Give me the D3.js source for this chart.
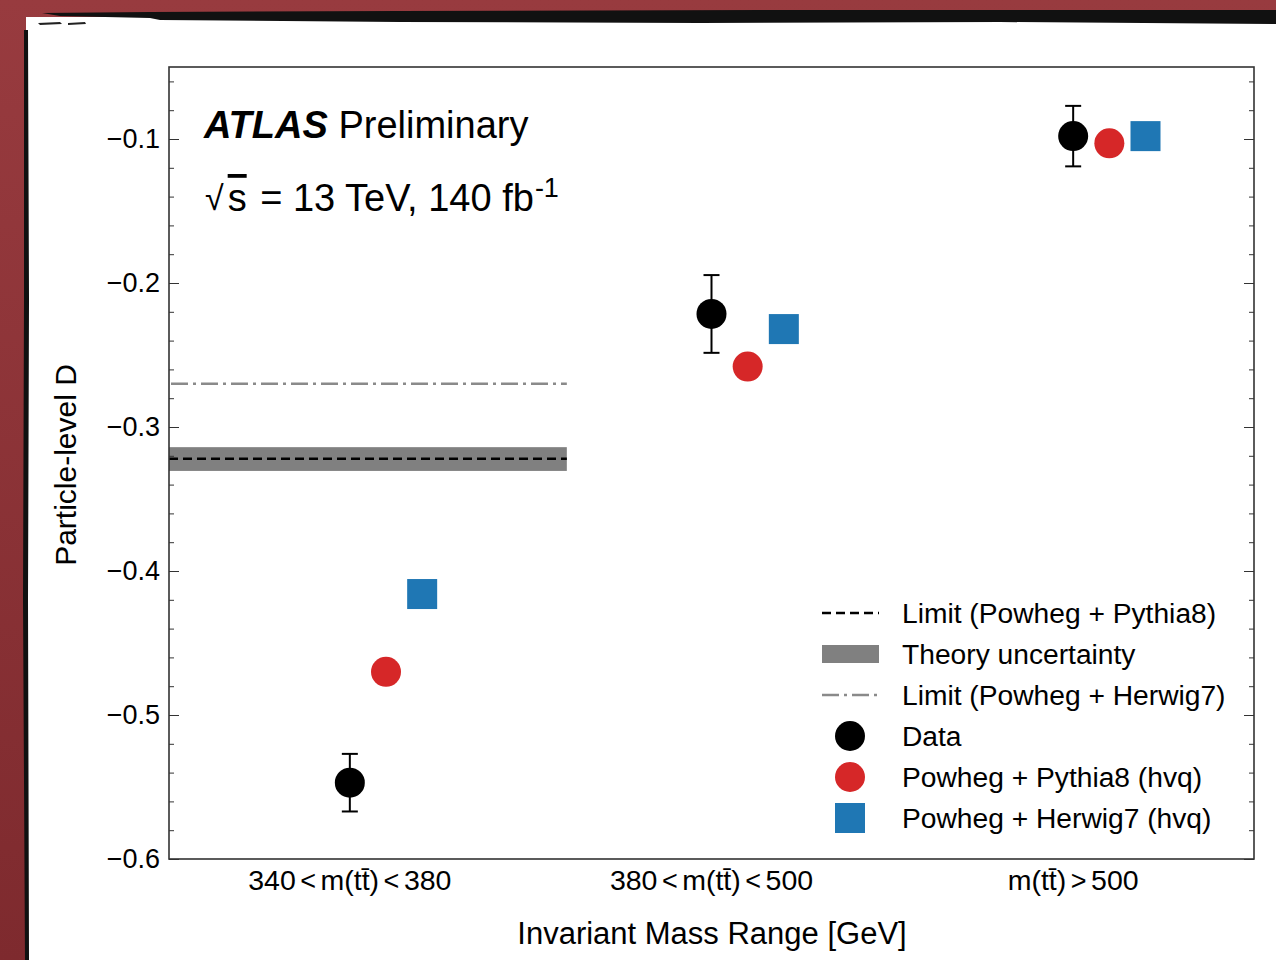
<!DOCTYPE html>
<html><head><meta charset="utf-8">
<script src="https://cdn.jsdelivr.net/npm/d3@7"></script>
<style>
html,body{margin:0;padding:0;background:#933a3e;}
svg{display:block;font-family:"Liberation Sans",Arial,Helvetica,sans-serif;}
</style></head>
<body>
<svg id="chart" width="1276" height="960"></svg>
<script>
// ---- data ----
const categories = ["340<m(tt\u0304)<380", "380<m(tt\u0304)<500", "m(tt\u0304)>500"];
const catLabelParts = [["340", "<", "m(tt\u0304)", "<", "380"], ["380", "<", "m(tt\u0304)", "<", "500"], ["m(tt\u0304)", ">", "500"]];
const dataValues = [-0.547, -0.2215, -0.098];
const dataErrors = [0.020, 0.027, 0.021];
const pythiaValues = [-0.470, -0.258, -0.103];
const herwigValues = [-0.416, -0.232, -0.098];
const limitPythia = -0.322;
const theoryBand = [-0.3305, -0.314];
const limitHerwig = -0.270;
const limitRange = [-0.5, 0.6]; // in category units
const yTicks = [-0.6, -0.5, -0.4, -0.3, -0.2, -0.1];
const legendLabels = ["Limit (Powheg + Pythia8)", "Theory uncertainty", "Limit (Powheg + Herwig7)", "Data", "Powheg + Pythia8 (hvq)", "Powheg + Herwig7 (hvq)"];

const svg = d3.select("#chart");
// ---- slide background ----
const bg = svg.append("g");
const grad = svg.append("defs").append("linearGradient").attr("id","redg").attr("x1",0).attr("y1",0).attr("x2",0).attr("y2",1);
grad.append("stop").attr("offset","0%").attr("stop-color","#983b3f");
grad.append("stop").attr("offset","100%").attr("stop-color","#7e2a2e");
bg.append("rect").attr("width",1276).attr("height",960).attr("fill","url(#redg)");
bg.append("rect").attr("x",26).attr("y",17).attr("width",1250).attr("height",943).attr("fill","#fff");
// rough black edges
bg.append("path").attr("d","M42,13 L150,12 L400,11 L800,10 L1276,10 L1276,24 L1000,22 L700,23 L400,22 L160,20 L150,18 L60,16 Z").attr("fill","#111");
bg.append("path").attr("d","M38,23 L60,22 L62,24 L40,25 Z M68,23 L85,22 L86,24 L68,25 Z").attr("fill","#222");
bg.append("path").attr("d","M24,30 L28,30 L29,300 L28,600 L29,960 L25,960 L23,600 L24,300 Z").attr("fill","#111");

const M = {left:169, right:1254, top:67, bottom:859};
const x = d3.scaleLinear().domain([-0.5, 2.5]).range([M.left, M.right]);
const y = d3.scaleLinear().domain([-0.6, -0.05]).range([M.bottom, M.top]);

const g = svg.append("g");
const minus = s => s.replace("-", "\u2212");

// theory band and limits
g.append("rect").attr("x", x(limitRange[0])).attr("width", x(limitRange[1]) - x(limitRange[0]))
  .attr("y", y(theoryBand[1])).attr("height", y(theoryBand[0]) - y(theoryBand[1])).attr("fill", "#808080");
g.append("line").attr("x1", x(limitRange[0])).attr("x2", x(limitRange[1])).attr("y1", y(limitPythia)).attr("y2", y(limitPythia))
  .attr("stroke", "#000").attr("stroke-width", 2.5).attr("stroke-dasharray", "9,5");
g.append("line").attr("x1", x(limitRange[0])+2).attr("x2", x(limitRange[1])).attr("y1", y(limitHerwig)).attr("y2", y(limitHerwig))
  .attr("stroke", "#8a8a8a").attr("stroke-width", 2.5).attr("stroke-dasharray", "17,5,3,5");

// axes (inward ticks)
const yAxisL = d3.axisLeft(y).tickValues(yTicks).tickSize(-10).tickFormat(d => minus(d3.format(".1f")(d)));
const yMinor = d3.range(-0.6, -0.049, 0.02).filter(v => Math.abs(Math.round(v*10)/10 - v) > 1e-6);
const gl = g.append("g").attr("transform", `translate(${M.left},0)`).call(yAxisL);
gl.select(".domain").remove();
gl.selectAll("text").attr("x", -9).attr("font-size", 27).attr("fill", "#000");
gl.selectAll("line").attr("stroke", "#333");
const glm = g.append("g").attr("transform", `translate(${M.left},0)`).call(d3.axisLeft(y).tickValues(yMinor).tickSize(-5).tickFormat(""));
glm.select(".domain").remove(); glm.selectAll("line").attr("stroke", "#333");
const gr = g.append("g").attr("transform", `translate(${M.right},0)`).call(d3.axisRight(y).tickValues(yTicks).tickSize(-10).tickFormat(""));
gr.select(".domain").remove(); gr.selectAll("line").attr("stroke", "#333");
const grm = g.append("g").attr("transform", `translate(${M.right},0)`).call(d3.axisRight(y).tickValues(yMinor).tickSize(-5).tickFormat(""));
grm.select(".domain").remove(); grm.selectAll("line").attr("stroke", "#333");

g.append("rect").attr("x", M.left).attr("y", M.top).attr("width", M.right - M.left).attr("height", M.bottom - M.top)
  .attr("fill", "none").attr("stroke", "#333").attr("stroke-width", 1.6);

// x category labels
const xl = g.append("g");
categories.forEach((c, i) => {
  const t = xl.append("text").attr("x", x(i)).attr("y", 890).attr("text-anchor", "middle").attr("font-size", 28.5).attr("fill", "#000");
  catLabelParts[i].forEach((p, j) => {
    const ts = t.append("tspan").text(p);
    if (p === "<" || p === ">") ts.attr("font-size", 27);
    if (j > 0) ts.attr("dx", 4.5);
  });
});
g.append("text").attr("x", 712).attr("y", 944).attr("text-anchor", "middle").attr("font-size", 31).text("Invariant Mass Range [GeV]");
g.append("text").attr("transform", `translate(76,465) rotate(-90)`).attr("text-anchor", "middle").attr("font-size", 30).text("Particle-level D");

// points
const idx = d3.range(categories.length);
const eb = g.append("g");
idx.forEach(i => {
  const cx = x(i);
  eb.append("line").attr("x1", cx).attr("x2", cx).attr("y1", y(dataValues[i] - dataErrors[i])).attr("y2", y(dataValues[i] + dataErrors[i])).attr("stroke", "#000").attr("stroke-width", 2);
  [dataValues[i] - dataErrors[i], dataValues[i] + dataErrors[i]].forEach(v =>
    eb.append("line").attr("x1", cx - 8).attr("x2", cx + 8).attr("y1", y(v)).attr("y2", y(v)).attr("stroke", "#000").attr("stroke-width", 2));
});
g.selectAll(".data").data(idx).join("circle").attr("cx", i => x(i)).attr("cy", i => y(dataValues[i])).attr("r", 15).attr("fill", "#000");
g.selectAll(".py").data(idx).join("circle").attr("cx", i => x(i + 0.1)).attr("cy", i => y(pythiaValues[i])).attr("r", 15).attr("fill", "#d62728");
g.selectAll(".hw").data(idx).join("rect").attr("x", i => x(i + 0.2) - 15).attr("y", i => y(herwigValues[i]) - 15).attr("width", 30).attr("height", 30).attr("fill", "#1f77b4");

// title
const tt = g.append("text").attr("x", 204).attr("y", 138).attr("font-size", 38).attr("fill", "#000");
tt.append("tspan").text("ATLAS").attr("font-weight", "bold").attr("font-style", "italic");
tt.append("tspan").text(" Preliminary");
const t2 = g.append("text").attr("x", 205).attr("y", 211).attr("font-size", 38).attr("fill", "#000");
t2.append("tspan").text("\u221A").attr("font-size", 34).attr("dy", -1);
t2.append("tspan").text("s").attr("text-decoration", "overline").attr("dx", 4).attr("dy", 1);
t2.append("tspan").text(" = 13 TeV, 140 fb").attr("dx", 3);
t2.append("tspan").text("-1").attr("font-size", 27).attr("dy", -14).attr("dx", 1);

// legend
const lg = g.append("g");
const ly = i => 613 + i * 41;
lg.append("line").attr("x1", 822).attr("x2", 879).attr("y1", ly(0)).attr("y2", ly(0)).attr("stroke", "#000").attr("stroke-width", 2.5).attr("stroke-dasharray", "9,5");
lg.append("rect").attr("x", 822).attr("width", 57).attr("y", ly(1) - 9).attr("height", 18).attr("fill", "#808080");
lg.append("line").attr("x1", 822).attr("x2", 879).attr("y1", ly(2)).attr("y2", ly(2)).attr("stroke", "#8a8a8a").attr("stroke-width", 2.5).attr("stroke-dasharray", "17,5,3,5");
lg.append("circle").attr("cx", 850).attr("cy", ly(3)).attr("r", 15).attr("fill", "#000");
lg.append("circle").attr("cx", 850).attr("cy", ly(4)).attr("r", 15).attr("fill", "#d62728");
lg.append("rect").attr("x", 835).attr("y", ly(5) - 15).attr("width", 30).attr("height", 30).attr("fill", "#1f77b4");
legendLabels.forEach((l, i) => lg.append("text").attr("x", 902).attr("y", ly(i) + 10).attr("font-size", 28.2).attr("fill", "#000").text(l));
</script>
</body></html>
